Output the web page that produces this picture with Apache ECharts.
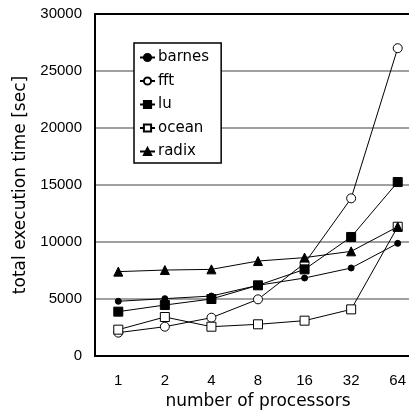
<!DOCTYPE html>
<html><head><meta charset="utf-8">
<script src="https://cdn.jsdelivr.net/npm/echarts@6/dist/echarts.min.js"></script>
<style>html,body{margin:0;padding:0;background:#fff}#c{width:409px;height:410px}</style>
</head><body><div id="c"></div>
<script>
var categories = ['1','2','4','8','16','32','64'];
var barnes = [4800, 5030, 5260, 6200, 6840, 7720, 9880];
var fft    = [2050, 2570, 3360, 4970, 8130, 13830, 27000];
var lu     = [3890, 4470, 5000, 6200, 7600, 10440, 15260];
var ocean  = [2310, 3420, 2570, 2780, 3100, 4090, 11340];
var radix  = [7400, 7540, 7600, 8330, 8630, 9180, 11340];
var seriesNames = ['barnes','fft','lu','ocean','radix'];

var chart = echarts.init(document.getElementById('c'), null, {renderer:'canvas'});
function mk(name, data, symbol, size, filled){
  return {
    name: name, type: 'line', data: data, symbol: symbol, symbolSize: size,
    showAllSymbol: true, animation: false,
    lineStyle: {color:'#000', width:1},
    itemStyle: {color: filled ? '#000' : '#fff', borderColor:'#000', borderWidth:1},
    z: 5
  };
}
chart.setOption({
  animation: false,
  backgroundColor: '#fff',
  grid: {left: 95, top: 14, right: -12, bottom: 54, containLabel: false, outerBoundsMode: 'none'},
  legend: {
    orient: 'vertical', left: 134, top: 43,
    data: seriesNames,
    backgroundColor: '#fff', borderColor: '#000', borderWidth: 1.5,
    padding: [7, 12, 4, 5],
    itemWidth: 15, itemHeight: 9, itemGap: 8.5,
    textStyle: {fontFamily: 'DejaVu Sans', fontSize: 15, color: '#000', padding: [0,0,0,-2]},
    z: 10
  },
  xAxis: [{
    type: 'category', data: categories, boundaryGap: true,
    axisLine: {lineStyle: {color:'#000', width: 2}},
    axisTick: {inside: true, length: 4, lineStyle: {color:'#000', width: 1}},
    axisLabel: {fontFamily: 'Liberation Sans', fontSize: 15, color: '#000', margin: 17},
    name: 'number of processors', nameLocation: 'middle', nameGap: 34,
    nameTextStyle: {fontFamily: 'DejaVu Sans', fontSize: 17, color: '#000'}
  },{
    type: 'category', data: categories, position: 'top', boundaryGap: true,
    axisLine: {lineStyle: {color:'#000', width: 2}},
    axisTick: {show: false}, axisLabel: {show: false}
  }],
  yAxis: {
    type: 'value', min: 0, max: 30000, interval: 5000,
    axisLine: {show: true, lineStyle: {color:'#000', width: 2}},
    axisTick: {show: false},
    splitLine: {lineStyle: {color:'#808080', width: 1.5}},
    axisLabel: {fontFamily: 'Liberation Sans', fontSize: 15, color: '#000', margin: 13,
      formatter: function(v){ return String(v); }},
    name: 'total execution time [sec]', nameLocation: 'middle', nameGap: 61,
    nameTextStyle: {fontFamily: 'DejaVu Sans', fontSize: 17, color: '#000'}
  },
  series: [
    mk('barnes', barnes, 'circle', 6, true),
    mk('fft', fft, 'circle', 9, false),
    mk('lu', lu, 'rect', 9, true),
    mk('ocean', ocean, 'rect', 9, false),
    mk('radix', radix, 'triangle', 9, true)
  ]
});
</script></body></html>
